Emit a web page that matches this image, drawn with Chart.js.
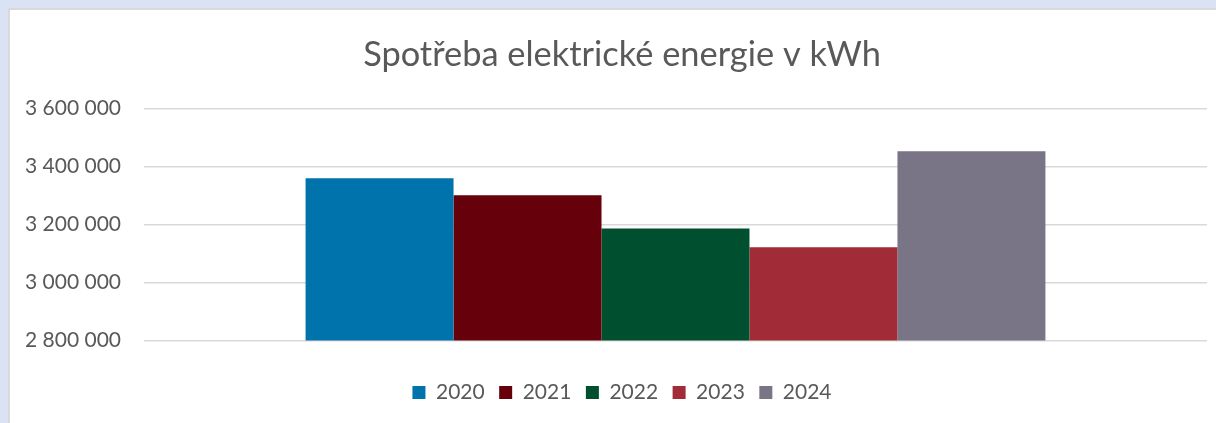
<!DOCTYPE html>
<html>
<head>
<meta charset="utf-8">
<script src="https://cdn.jsdelivr.net/npm/chart.js@4"></script>
<style>
    html, body { margin: 0; padding: 0; }
    body { width: 1216px; height: 423px; background: #dae3f3; position: relative; overflow: hidden; }
    #ramecek { position: absolute; left: 8px; top: 8px; width: 1240px; height: 430px; background: #fff; border-left: 2px solid #d9d9d9; border-top: 2px solid #d9d9d9; }
    #graf-wrap { position: absolute; left: 10px; top: 10px; width: 1233px; height: 413px; }
</style>
</head>
<body>
<div id="ramecek"></div>
<div id="graf-wrap"><canvas id="graf-spotreba"></canvas></div>
<script>
// Data - spotřeba v kWh po letech
const roky = ['2020', '2021', '2022', '2023', '2024'];
const spotreba = [3359000, 3300000, 3186000, 3121000, 3452000];
const osaY = [2800000, 3000000, 3200000, 3400000, 3600000];

// barvy sloupců
const barvy = ['#0072ac', '#66000b', '#005030', '#a12b36', '#797586'];

const pismo = 'Lato, "Open Sans", sans-serif';
const sedaText = '#595959';

// formát čísla s mezerou jako oddělovačem tisíců
function formatCislo(v) {
    return String(v).replace(/\B(?=(\d{3})+(?!\d))/g, ' ');
}

const datasets = roky.map(function (rok, i) {
    return {
        label: rok,
        data: [spotreba[i]],
        backgroundColor: barvy[i],
        borderWidth: 0,
        barPercentage: 1,
        categoryPercentage: 0.696
    };
});

new Chart(document.getElementById('graf-spotreba'), {
    type: 'bar',
    data: {
        labels: [''],
        datasets: datasets
    },
    options: {
        responsive: true,
        maintainAspectRatio: false,
        animation: false,
        layout: {
            padding: { left: 0, right: 9, top: 24, bottom: 10 }
        },
        scales: {
            x: {
                // osa X bez popisků, jen mezera nad legendou
                display: true,
                border: { display: false },
                grid: { display: false },
                ticks: { display: false },
                afterFit: function (scale) {
                    scale.height = 27;
                }
            },
            y: {
                min: osaY[0],
                max: osaY[osaY.length - 1],
                afterBuildTicks: function (scale) {
                    scale.ticks = osaY.map(function (v) { return { value: v }; });
                },
                afterFit: function (scale) {
                    scale.width = 134;
                },
                border: { display: false },
                grid: {
                    color: '#d9d9d9',
                    lineWidth: 1.5,
                    drawTicks: false
                },
                ticks: {
                    padding: 23,
                    color: sedaText,
                    font: { family: pismo, size: 21 },
                    callback: function (v) { return formatCislo(v); }
                }
            },
            // prázdná pravá osa - jen posune nadpis a legendu doprava jako v Excelu
            vpravo: {
                type: 'linear',
                position: 'right',
                display: true,
                border: { display: false },
                grid: { display: false },
                ticks: { display: false },
                afterFit: function (scale) {
                    scale.width = 27;
                }
            }
        },
        plugins: {
            title: {
                display: true,
                text: 'Spotřeba elektrické energie v kWh',
                color: sedaText,
                font: { family: pismo, size: 34.4, weight: 'normal' },
                padding: { top: 0, bottom: 33 }
            },
            legend: {
                position: 'bottom',
                labels: {
                    boxWidth: 13,
                    boxHeight: 13,
                    padding: 14.5,
                    color: sedaText,
                    font: { family: pismo, size: 21 }
                }
            },
            tooltip: { enabled: false }
        }
    }
});
</script>
</body>
</html>
